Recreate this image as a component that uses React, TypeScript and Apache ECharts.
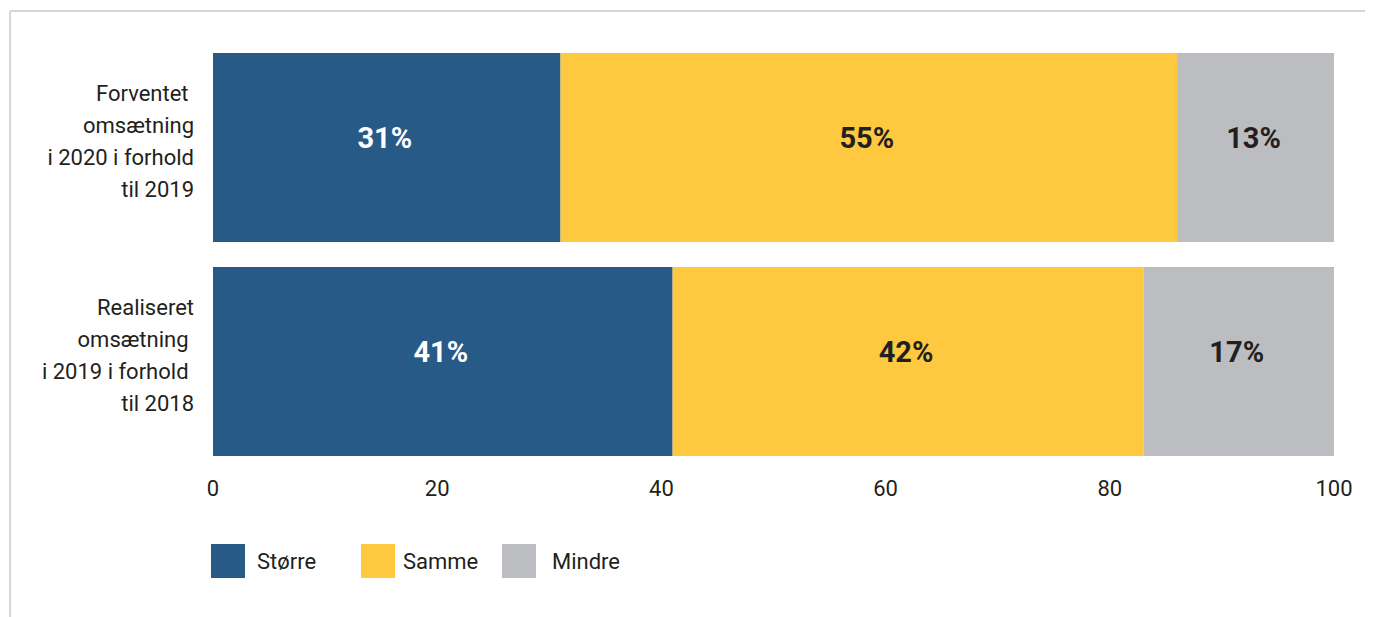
import React, { useEffect, useRef } from "react";
import * as echarts from "echarts";

const categories = [
  "Forventet \nomsætning\ni 2020 i forhold\ntil 2019",
  "Realiseret\nomsætning \ni 2019 i forhold \ntil 2018",
];
const seriesNames = ["Større", "Samme", "Mindre"];
const storreValues = [31, 41];
const sammeValues = [55, 42];
const mindreValues = [14, 17];
const storreLabels = ["31%", "41%"];
const sammeLabels = ["55%", "42%"];
const mindreLabels = ["13%", "17%"];
const xTicks = [0, 20, 40, 60, 80, 100];

const colors = ["#275a87", "#fec93e", "#bcbdc0"];
const textDark = "#231f20";
const font = "Roboto, 'Noto Sans', sans-serif";

export default function App() {
  const ref = useRef<HTMLDivElement>(null);
  useEffect(() => {
    if (!ref.current) return;
    const chart = echarts.init(ref.current, null, { renderer: "svg" });
    const values = [storreValues, sammeValues, mindreValues];
    const labels = [storreLabels, sammeLabels, mindreLabels];
    const legendLefts = [203, 353, 494];
    const legendTextPad = [7, 3, 11];
    chart.setOption({
      animation: false,
      backgroundColor: "#ffffff",
      textStyle: { fontFamily: font },
      grid: { left: 205, right: 39, top: 32.5, height: 428, containLabel: false },
      xAxis: {
        type: "value",
        min: xTicks[0],
        max: xTicks[xTicks.length - 1],
        interval: 20,
        axisLine: { show: false },
        axisTick: { show: false },
        splitLine: { show: false },
        axisLabel: { color: textDark, fontSize: 22, margin: 9, fontFamily: font },
      },
      yAxis: {
        type: "category",
        inverse: true,
        data: categories,
        axisLine: { show: false },
        axisTick: { show: false },
        axisLabel: {
          color: textDark,
          fontSize: 22,
          lineHeight: 32,
          align: "right",
          margin: 19,
          fontFamily: font,
          formatter: (v: string) =>
            v
              .split("\n")
              .map((l) => "{a|" + l + "}")
              .join("\n") + "\n{s| }",
          rich: {
            a: { fontSize: 22, lineHeight: 32, color: textDark, fontFamily: font, align: "right" },
            s: { fontSize: 2, lineHeight: 13 },
          },
        },
      },
      legend: seriesNames.map((n, i) => ({
        data: [n],
        left: legendLefts[i],
        top: 536,
        padding: 0,
        orient: "horizontal",
        itemWidth: 34,
        itemHeight: 34,
        icon: "rect",
        selectedMode: false,
        textStyle: {
          color: textDark,
          fontSize: 22,
          fontFamily: font,
          padding: [0, 0, 0, legendTextPad[i]],
        },
      })),
      graphic: [
        { type: "line", shape: { x1: 2, y1: 3, x2: 1365, y2: 3 }, style: { stroke: "#c8c8c8", lineWidth: 1.5 } },
        { type: "line", shape: { x1: 2, y1: 3, x2: 2, y2: 609 }, style: { stroke: "#c8c8c8", lineWidth: 1.5 } },
      ],
      series: seriesNames.map((n, i) => ({
        name: n,
        type: "bar",
        stack: "total",
        barWidth: 189,
        data: values[i],
        itemStyle: { color: colors[i] },
        label: {
          show: true,
          position: "inside",
          offset: [-2, -10],
          formatter: (p: any) => labels[i][p.dataIndex],
          color: i === 0 ? "#ffffff" : textDark,
          fontSize: 29,
          fontWeight: "bold",
          fontFamily: font,
        },
      })),
    });
    return () => chart.dispose();
  }, []);
  return <div ref={ref} style={{ width: 1365, height: 609 }} />;
}
